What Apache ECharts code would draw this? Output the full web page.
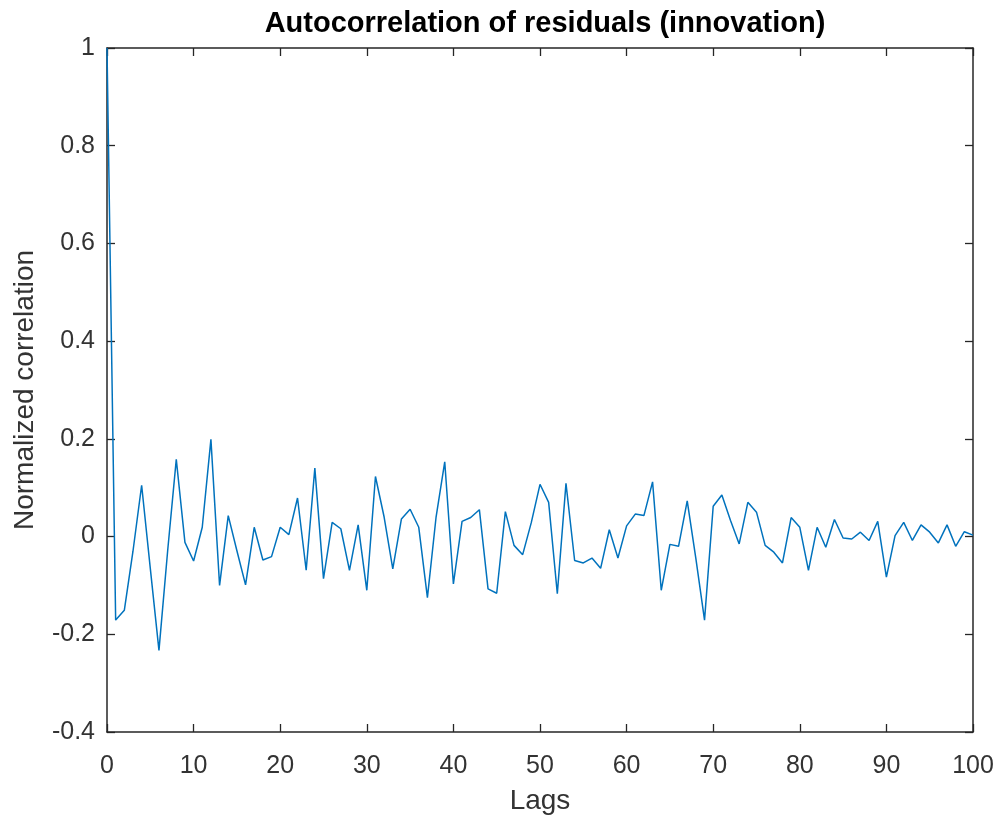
<!DOCTYPE html>
<html>
<head>
<meta charset="utf-8">
<script src="https://cdn.jsdelivr.net/npm/echarts@6/dist/echarts.min.js"></script>
<style>html,body{margin:0;padding:0;background:#fff}#c{width:1000px;height:818px}</style>
</head>
<body>
<div id="c"></div>
<script>
var titleText = "Autocorrelation of residuals (innovation)";
var xName = "Lags";
var yName = "Normalized correlation";
var lags = [0,1,2,3,4,5,6,7,8,9,10,11,12,13,14,15,16,17,18,19,20,21,22,23,24,25,26,27,28,29,30,31,32,33,34,35,36,37,38,39,40,41,42,43,44,45,46,47,48,49,50,51,52,53,54,55,56,57,58,59,60,61,62,63,64,65,66,67,68,69,70,71,72,73,74,75,76,77,78,79,80,81,82,83,84,85,86,87,88,89,90,91,92,93,94,95,96,97,98,99,100];
var acf = [1, -0.171, -0.151, -0.03, 0.105, -0.065, -0.233, -0.03, 0.158, -0.012,
  -0.05, 0.019, 0.199, -0.1, 0.043, -0.029, -0.099, 0.019, -0.048, -0.041,
  0.019, 0.004, 0.079, -0.069, 0.14, -0.086, 0.029, 0.016, -0.069, 0.024,
  -0.11, 0.123, 0.04, -0.066, 0.036, 0.056, 0.019, -0.125, 0.04, 0.153,
  -0.097, 0.031, 0.039, 0.055, -0.107, -0.116, 0.051, -0.018, -0.037, 0.029,
  0.107, 0.07, -0.117, 0.109, -0.049, -0.054, -0.044, -0.065, 0.014, -0.044,
  0.022, 0.046, 0.043, 0.112, -0.11, -0.016, -0.02, 0.073, -0.045, -0.171,
  0.062, 0.085, 0.033, -0.015, 0.07, 0.05, -0.018, -0.032, -0.054, 0.039,
  0.019, -0.069, 0.019, -0.022, 0.035, -0.003, -0.005, 0.009, -0.008, 0.031,
  -0.083, 0.002, 0.029, -0.008, 0.024, 0.009, -0.013, 0.024, -0.02, 0.01, 0.003];
var xMin = 0, xMax = 100, xStep = 10;
var yMin = -0.4, yMax = 1, yStep = 0.2;

var pts = lags.map(function(l, i){ return [l, acf[i]]; });
var axisCol = '#262626';
var labelCol = '#333333';
var font = 'Liberation Sans, Arial, Helvetica, sans-serif';

function xa(pos, show){
  return {
    type:'value', position:pos, min:xMin, max:xMax, interval:xStep,
    axisLine:{show:true, onZero:false, lineStyle:{color:axisCol, width:1.5}},
    axisTick:{show:true, inside:true, length:8, lineStyle:{color:axisCol, width:1.3}},
    axisLabel:{show:show, color:labelCol, fontSize:25, fontFamily:font, margin:22},
    splitLine:{show:false},
    name: show ? xName : '', nameLocation:'middle', nameGap:55,
    nameTextStyle:{color:labelCol, fontSize:28, fontFamily:font}
  };
}
function ya(pos, show){
  return {
    type:'value', position:pos, min:yMin, max:yMax, interval:yStep,
    axisLine:{show:true, onZero:false, lineStyle:{color:axisCol, width:1.5}},
    axisTick:{show:true, inside:true, length:8, lineStyle:{color:axisCol, width:1.3}},
    axisLabel:{show:show, color:labelCol, fontSize:25, fontFamily:font, margin:12,
      formatter:function(v){ return String(Math.round(v*10)/10); }},
    splitLine:{show:false},
    name: show ? yName : '', nameLocation:'middle', nameGap:68,
    nameTextStyle:{color:labelCol, fontSize:28, fontFamily:font}
  };
}

var chart = echarts.init(document.getElementById('c'), null, {renderer:'canvas'});
chart.setOption({
  animation:false,
  backgroundColor:'#ffffff',
  title:{text:titleText, left:540, textAlign:'center', top:4,
    textStyle:{color:'#000', fontSize:29, fontWeight:'bold', fontFamily:font}},
  grid:{left:107, right:27, top:48, bottom:86, containLabel:false, outerBoundsMode:'none'},
  xAxis:[xa('bottom', true), xa('top', false)],
  yAxis:[ya('left', true), ya('right', false)],
  series:[{
    type:'line', data:pts, xAxisIndex:0, yAxisIndex:0,
    showSymbol:false, symbol:'none',
    lineStyle:{color:'#0072BD', width:1.5},
    clip:true
  }]
});
</script>
</body>
</html>
